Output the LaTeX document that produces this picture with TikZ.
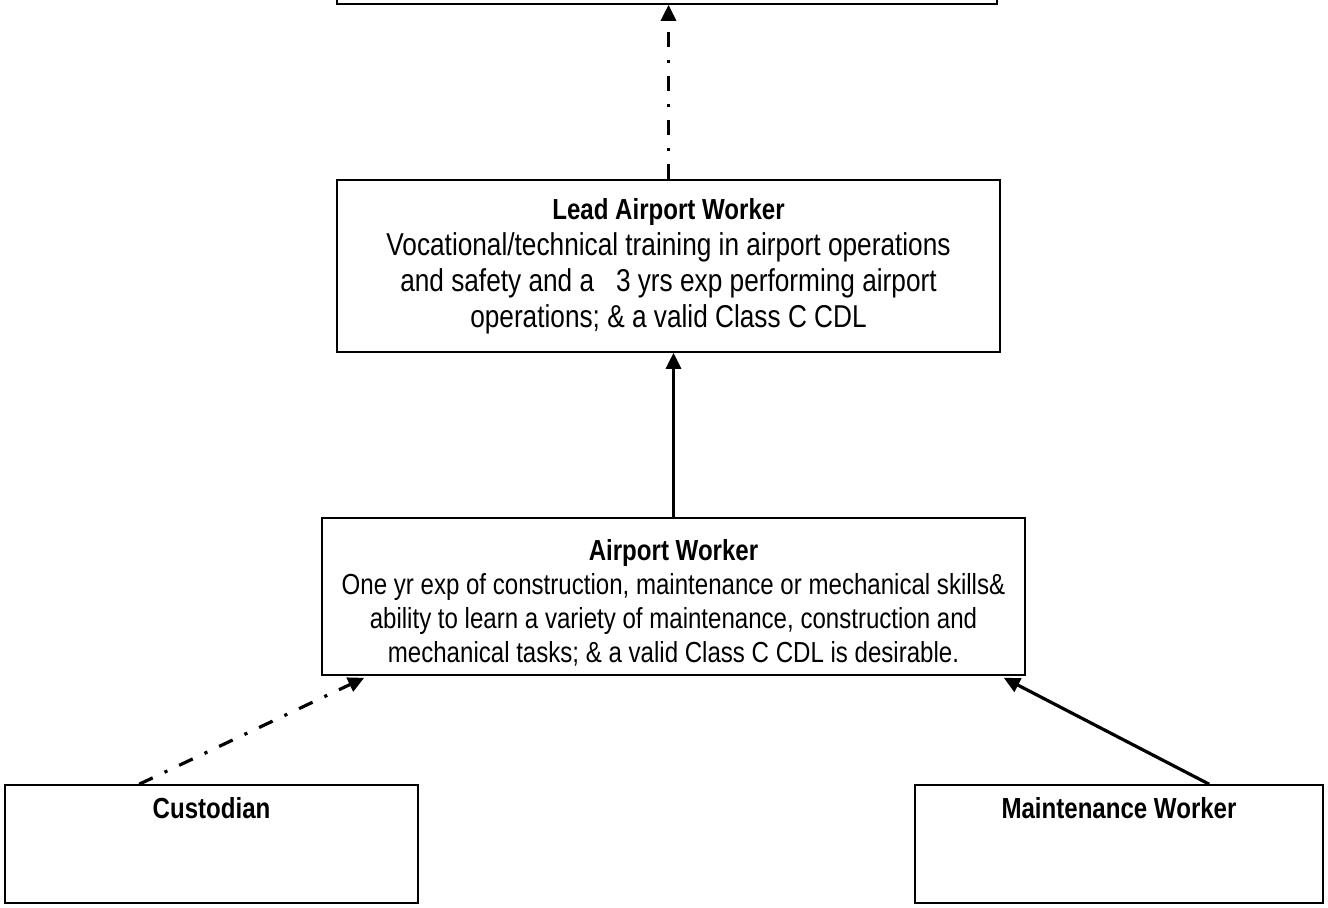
\documentclass[tikz,border=0pt]{standalone}
\usepackage{fontspec}
\setmainfont{Liberation Sans}[FakeStretch=0.83]
\usetikzlibrary{arrows.meta,calc}

\begin{document}
\begin{tikzpicture}[
x=0.5pt, y=-0.5pt,
font=\fontsize{14.5pt}{17pt}\selectfont,
rolebox/.style={draw, line width=0.8pt, rectangle, align=center, inner sep=0pt},
promote/.style={line width=1.6pt, -{Triangle[length=8pt,width=7.5pt]}},
maybe/.style={promote, dash pattern=on 7.5pt off 6.5pt on 1.6pt off 6.5pt}
]
    % Page frame
    \clip (0,0) rectangle (1328,907);

    % Boxes
    \node[rolebox, minimum width=330pt, minimum height=30pt] (next) at (667,-26) {};

    \node[rolebox, minimum width=331.5pt, minimum height=86pt,
          font=\fontsize{15.8pt}{18pt}\selectfont] (lead) at (668.5,266)
      {{\fontsize{14.5pt}{18pt}\selectfont\bfseries Lead Airport Worker}\\
       Vocational/technical training in airport operations\\
       and safety and a \ \ 3 yrs exp performing airport\\
       operations; \& a valid Class C CDL};

    \node[rolebox, minimum width=351.5pt, minimum height=78.5pt] (air) at (673.5,596.5)
      {\rule{0pt}{16.5pt}\textbf{Airport Worker}\\
       One yr exp of construction, maintenance or mechanical skills\&\\
       ability to learn a variety of maintenance, construction and\\
       mechanical tasks; \& a valid Class C CDL is desirable.};

    \node[rolebox, minimum width=206.5pt, minimum height=59pt] (cust) at (211.5,844)
      {\textbf{Custodian}\\[19pt]\mbox{}};

    \node[rolebox, minimum width=204pt, minimum height=59pt] (maint) at (1119,844)
      {\textbf{Maintenance Worker}\\[19pt]\mbox{}};

    % Connectors
    \coordinate (custtop) at ($(cust.north west)+(135,0)$);
    \coordinate (airleft) at ($(air.south west)+(43,2)$);
    \coordinate (mainttop) at ($(maint.north west)+(295,0)$);
    \coordinate (airright) at ($(air.south east)+(-22,2)$);

    \draw[maybe] (lead.north) -- (lead.north |- next.south);
    \draw[promote] (air.north) -- (air.north |- lead.south);
    \draw[maybe] (custtop) -- (airleft);
    \draw[promote] (mainttop) -- (airright);

\end{tikzpicture}
\end{document}
